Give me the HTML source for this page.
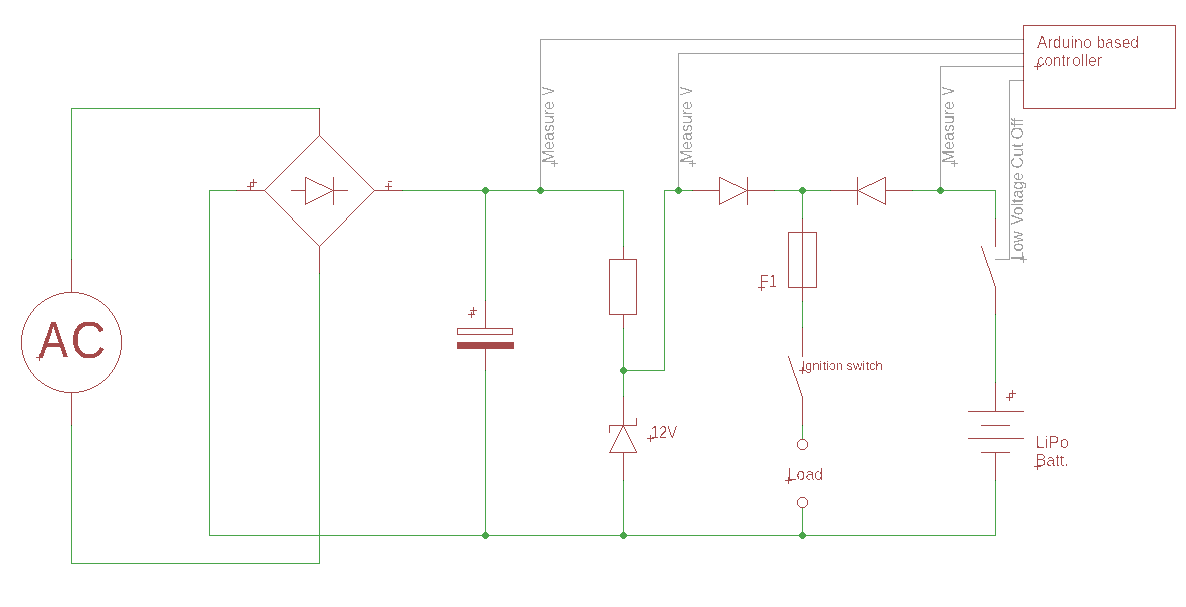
<!DOCTYPE html>
<html><head><meta charset="utf-8"><title>Circuit</title>
<style>
html,body{margin:0;padding:0;background:#fff;}
svg{display:block;}
text{font-family:"Liberation Sans",sans-serif;}
</style></head>
<body>
<svg width="1186" height="607" viewBox="0 0 1186 607" shape-rendering="crispEdges">
<rect x="0" y="0" width="1186" height="607" fill="#ffffff"/>
<rect x="540" y="39" width="1" height="152" fill="#a0a0a0"/>
<rect x="540" y="39" width="484" height="1" fill="#a0a0a0"/>
<rect x="678" y="53" width="1" height="138" fill="#a0a0a0"/>
<rect x="678" y="53" width="346" height="1" fill="#a0a0a0"/>
<rect x="940" y="66" width="1" height="125" fill="#a0a0a0"/>
<rect x="940" y="66" width="84" height="1" fill="#a0a0a0"/>
<rect x="1009" y="80" width="1" height="180" fill="#a0a0a0"/>
<rect x="1009" y="80" width="15" height="1" fill="#a0a0a0"/>
<rect x="995" y="259" width="15" height="1" fill="#a0a0a0"/>
<rect x="71" y="108" width="1" height="152" fill="#4aa54a"/>
<rect x="71" y="108" width="248" height="1" fill="#4aa54a"/>
<rect x="71" y="425" width="1" height="139" fill="#4aa54a"/>
<rect x="71" y="563" width="249" height="1" fill="#4aa54a"/>
<rect x="319" y="273" width="1" height="291" fill="#4aa54a"/>
<rect x="209" y="190" width="28" height="1" fill="#4aa54a"/>
<rect x="209" y="190" width="1" height="346" fill="#4aa54a"/>
<rect x="209" y="535" width="787" height="1" fill="#4aa54a"/>
<rect x="402" y="190" width="222" height="1" fill="#4aa54a"/>
<rect x="623" y="190" width="1" height="57" fill="#4aa54a"/>
<rect x="623" y="328" width="1" height="69" fill="#4aa54a"/>
<rect x="623" y="370" width="42" height="1" fill="#4aa54a"/>
<rect x="664" y="190" width="1" height="181" fill="#4aa54a"/>
<rect x="664" y="190" width="29" height="1" fill="#4aa54a"/>
<rect x="774" y="190" width="57" height="1" fill="#4aa54a"/>
<rect x="912" y="190" width="84" height="1" fill="#4aa54a"/>
<rect x="995" y="190" width="1" height="29" fill="#4aa54a"/>
<rect x="995" y="314" width="1" height="69" fill="#4aa54a"/>
<rect x="995" y="480" width="1" height="56" fill="#4aa54a"/>
<rect x="623" y="480" width="1" height="56" fill="#4aa54a"/>
<rect x="485" y="190" width="1" height="111" fill="#4aa54a"/>
<rect x="485" y="370" width="1" height="166" fill="#4aa54a"/>
<rect x="802" y="190" width="1" height="29" fill="#4aa54a"/>
<rect x="802" y="301" width="1" height="27" fill="#4aa54a"/>
<rect x="802" y="425" width="1" height="15" fill="#4aa54a"/>
<rect x="802" y="508" width="1" height="28" fill="#4aa54a"/>
<rect x="71" y="260" width="1" height="32" fill="#a54a4a"/>
<rect x="71" y="392" width="1" height="33" fill="#a54a4a"/>
<path fill="#a54a4a" d="M64 292h15v1h-15zM59 293h5v1h-5zM79 293h5v1h-5zM56 294h3v1h-3zM84 294h3v1h-3zM53 295h3v1h-3zM87 295h3v1h-3zM51 296h2v1h-2zM90 296h2v1h-2zM49 297h2v1h-2zM92 297h2v1h-2zM47 298h2v1h-2zM94 298h2v1h-2zM45 299h2v1h-2zM96 299h2v1h-2zM42 301h2v1h-2zM99 301h2v1h-2zM38 304h2v1h-2zM103 304h2v1h-2zM38 380h2v1h-2zM103 380h2v1h-2zM42 383h2v1h-2zM99 383h2v1h-2zM45 385h2v1h-2zM96 385h2v1h-2zM47 386h2v1h-2zM94 386h2v1h-2zM49 387h2v1h-2zM92 387h2v1h-2zM51 388h2v1h-2zM90 388h2v1h-2zM53 389h3v1h-3zM87 389h3v1h-3zM56 390h3v1h-3zM84 390h3v1h-3zM59 391h5v1h-5zM79 391h5v1h-5zM64 392h15v1h-15zM21 335h1v15h-1zM22 330h1v5h-1zM22 350h1v5h-1zM23 327h1v3h-1zM23 355h1v3h-1zM24 324h1v3h-1zM24 358h1v3h-1zM25 322h1v2h-1zM25 361h1v2h-1zM26 320h1v2h-1zM26 363h1v2h-1zM27 318h1v2h-1zM27 365h1v2h-1zM28 316h1v2h-1zM28 367h1v2h-1zM29 315h1v1h-1zM29 369h1v1h-1zM30 313h1v2h-1zM30 370h1v2h-1zM31 312h1v1h-1zM31 372h1v1h-1zM32 311h1v1h-1zM32 373h1v1h-1zM33 309h1v2h-1zM33 374h1v2h-1zM34 308h1v1h-1zM34 376h1v1h-1zM35 307h1v1h-1zM35 377h1v1h-1zM36 306h1v1h-1zM36 378h1v1h-1zM37 305h1v1h-1zM37 379h1v1h-1zM40 303h1v1h-1zM40 381h1v1h-1zM41 302h1v1h-1zM41 382h1v1h-1zM44 300h1v1h-1zM44 384h1v1h-1zM98 300h1v1h-1zM98 384h1v1h-1zM101 302h1v1h-1zM101 382h1v1h-1zM102 303h1v1h-1zM102 381h1v1h-1zM105 305h1v1h-1zM105 379h1v1h-1zM106 306h1v1h-1zM106 378h1v1h-1zM107 307h1v1h-1zM107 377h1v1h-1zM108 308h1v1h-1zM108 376h1v1h-1zM109 309h1v2h-1zM109 374h1v2h-1zM110 311h1v1h-1zM110 373h1v1h-1zM111 312h1v1h-1zM111 372h1v1h-1zM112 313h1v2h-1zM112 370h1v2h-1zM113 315h1v1h-1zM113 369h1v1h-1zM114 316h1v2h-1zM114 367h1v2h-1zM115 318h1v2h-1zM115 365h1v2h-1zM116 320h1v2h-1zM116 363h1v2h-1zM117 322h1v2h-1zM117 361h1v2h-1zM118 324h1v3h-1zM118 358h1v3h-1zM119 327h1v3h-1zM119 355h1v3h-1zM120 330h1v5h-1zM120 350h1v5h-1zM121 335h1v15h-1z"/>
<rect x="319" y="108" width="1" height="28" fill="#a54a4a"/>
<rect x="319" y="246" width="1" height="27" fill="#a54a4a"/>
<rect x="237" y="190" width="28" height="1" fill="#a54a4a"/>
<rect x="374" y="190" width="28" height="1" fill="#a54a4a"/>
<path fill="#a54a4a" d="M264 190h1v1h-1zM265 189h1v1h-1zM266 188h1v1h-1zM267 187h1v1h-1zM268 186h1v1h-1zM269 185h1v1h-1zM270 184h1v1h-1zM271 183h1v1h-1zM272 182h1v1h-1zM273 181h1v1h-1zM274 180h1v1h-1zM275 179h1v1h-1zM276 178h1v1h-1zM277 177h1v1h-1zM278 176h1v1h-1zM279 175h1v1h-1zM280 174h1v1h-1zM281 173h1v1h-1zM282 172h1v1h-1zM283 171h1v1h-1zM284 170h1v1h-1zM285 169h1v1h-1zM286 168h1v1h-1zM287 167h1v1h-1zM288 166h1v1h-1zM289 165h1v1h-1zM290 164h1v1h-1zM291 163h1v1h-1zM292 162h1v1h-1zM293 161h1v1h-1zM294 160h1v1h-1zM295 159h1v1h-1zM296 158h1v1h-1zM297 157h1v1h-1zM298 156h1v1h-1zM299 155h1v1h-1zM300 154h1v1h-1zM301 153h1v1h-1zM302 152h1v1h-1zM303 151h1v1h-1zM304 150h1v1h-1zM305 149h1v1h-1zM306 148h1v1h-1zM307 147h1v1h-1zM308 146h1v1h-1zM309 145h1v1h-1zM310 144h1v1h-1zM311 143h1v1h-1zM312 142h1v1h-1zM313 141h1v1h-1zM314 140h1v1h-1zM315 139h1v1h-1zM316 138h1v1h-1zM317 137h1v1h-1zM318 136h1v1h-1zM319 135h1v1h-1z"/>
<path fill="#a54a4a" d="M264 190h1v1h-1zM265 191h1v1h-1zM266 192h1v1h-1zM267 193h1v1h-1zM268 194h1v1h-1zM269 195h1v1h-1zM270 196h1v1h-1zM271 197h1v1h-1zM272 198h1v1h-1zM273 199h1v1h-1zM274 200h1v1h-1zM275 201h1v1h-1zM276 202h1v1h-1zM277 203h1v1h-1zM278 204h1v1h-1zM279 205h1v1h-1zM280 206h1v1h-1zM281 207h1v1h-1zM282 208h1v1h-1zM283 209h1v1h-1zM284 210h1v1h-1zM285 211h1v1h-1zM286 212h1v1h-1zM287 213h1v1h-1zM288 214h1v1h-1zM289 215h1v1h-1zM290 216h1v1h-1zM291 217h1v1h-1zM292 218h1v2h-1zM293 220h1v1h-1zM294 221h1v1h-1zM295 222h1v1h-1zM296 223h1v1h-1zM297 224h1v1h-1zM298 225h1v1h-1zM299 226h1v1h-1zM300 227h1v1h-1zM301 228h1v1h-1zM302 229h1v1h-1zM303 230h1v1h-1zM304 231h1v1h-1zM305 232h1v1h-1zM306 233h1v1h-1zM307 234h1v1h-1zM308 235h1v1h-1zM309 236h1v1h-1zM310 237h1v1h-1zM311 238h1v1h-1zM312 239h1v1h-1zM313 240h1v1h-1zM314 241h1v1h-1zM315 242h1v1h-1zM316 243h1v1h-1zM317 244h1v1h-1zM318 245h1v1h-1zM319 246h1v1h-1z"/>
<path fill="#a54a4a" d="M319 246h1v1h-1zM320 245h1v1h-1zM321 244h1v1h-1zM322 243h1v1h-1zM323 242h1v1h-1zM324 241h1v1h-1zM325 240h1v1h-1zM326 239h1v1h-1zM327 238h1v1h-1zM328 237h1v1h-1zM329 236h1v1h-1zM330 235h1v1h-1zM331 234h1v1h-1zM332 233h1v1h-1zM333 232h1v1h-1zM334 231h1v1h-1zM335 230h1v1h-1zM336 229h1v1h-1zM337 228h1v1h-1zM338 227h1v1h-1zM339 226h1v1h-1zM340 225h1v1h-1zM341 224h1v1h-1zM342 223h1v1h-1zM343 222h1v1h-1zM344 221h1v1h-1zM345 220h1v1h-1zM346 218h1v2h-1zM347 217h1v1h-1zM348 216h1v1h-1zM349 215h1v1h-1zM350 214h1v1h-1zM351 213h1v1h-1zM352 212h1v1h-1zM353 211h1v1h-1zM354 210h1v1h-1zM355 209h1v1h-1zM356 208h1v1h-1zM357 207h1v1h-1zM358 206h1v1h-1zM359 205h1v1h-1zM360 204h1v1h-1zM361 203h1v1h-1zM362 202h1v1h-1zM363 201h1v1h-1zM364 200h1v1h-1zM365 199h1v1h-1zM366 198h1v1h-1zM367 197h1v1h-1zM368 196h1v1h-1zM369 195h1v1h-1zM370 194h1v1h-1zM371 193h1v1h-1zM372 192h1v1h-1zM373 191h1v1h-1zM374 190h1v1h-1z"/>
<path fill="#a54a4a" d="M319 135h1v1h-1zM320 136h1v1h-1zM321 137h1v1h-1zM322 138h1v1h-1zM323 139h1v1h-1zM324 140h1v1h-1zM325 141h1v1h-1zM326 142h1v1h-1zM327 143h1v1h-1zM328 144h1v1h-1zM329 145h1v1h-1zM330 146h1v1h-1zM331 147h1v1h-1zM332 148h1v1h-1zM333 149h1v1h-1zM334 150h1v1h-1zM335 151h1v1h-1zM336 152h1v1h-1zM337 153h1v1h-1zM338 154h1v1h-1zM339 155h1v1h-1zM340 156h1v1h-1zM341 157h1v1h-1zM342 158h1v1h-1zM343 159h1v1h-1zM344 160h1v1h-1zM345 161h1v1h-1zM346 162h1v1h-1zM347 163h1v1h-1zM348 164h1v1h-1zM349 165h1v1h-1zM350 166h1v1h-1zM351 167h1v1h-1zM352 168h1v1h-1zM353 169h1v1h-1zM354 170h1v1h-1zM355 171h1v1h-1zM356 172h1v1h-1zM357 173h1v1h-1zM358 174h1v1h-1zM359 175h1v1h-1zM360 176h1v1h-1zM361 177h1v1h-1zM362 178h1v1h-1zM363 179h1v1h-1zM364 180h1v1h-1zM365 181h1v1h-1zM366 182h1v1h-1zM367 183h1v1h-1zM368 184h1v1h-1zM369 185h1v1h-1zM370 186h1v1h-1zM371 187h1v1h-1zM372 188h1v1h-1zM373 189h1v1h-1zM374 190h1v1h-1z"/>
<rect x="291" y="190" width="15" height="1" fill="#a54a4a"/>
<rect x="333" y="190" width="15" height="1" fill="#a54a4a"/>
<rect x="305" y="177" width="1" height="28" fill="#a54a4a"/>
<rect x="333" y="177" width="1" height="28" fill="#a54a4a"/>
<path fill="#a54a4a" d="M305 177h2v1h-2zM307 178h2v1h-2zM309 179h2v1h-2zM311 180h2v1h-2zM313 181h2v1h-2zM315 182h2v1h-2zM317 183h2v1h-2zM319 184h3v1h-3zM322 185h2v1h-2zM324 186h2v1h-2zM326 187h2v1h-2zM328 188h2v1h-2zM330 189h2v1h-2zM332 190h2v1h-2z"/>
<path fill="#a54a4a" d="M332 190h2v1h-2zM330 191h2v1h-2zM328 192h2v1h-2zM326 193h2v1h-2zM324 194h2v1h-2zM322 195h2v1h-2zM320 196h2v1h-2zM318 197h2v1h-2zM316 198h2v1h-2zM314 199h2v1h-2zM312 200h2v1h-2zM310 201h2v1h-2zM308 202h2v1h-2zM306 203h2v1h-2zM305 204h1v1h-1z"/>
<rect x="247" y="186" width="7" height="1" fill="#a54a4a"/>
<rect x="250" y="182" width="1" height="9" fill="#a54a4a"/>
<rect x="250" y="182" width="7" height="1" fill="#a54a4a"/>
<rect x="253" y="179" width="1" height="8" fill="#a54a4a"/>
<rect x="385" y="186" width="7" height="1" fill="#a54a4a"/>
<rect x="388" y="183" width="1" height="8" fill="#a54a4a"/>
<rect x="388" y="181" width="4" height="1" fill="#a54a4a"/>
<rect x="485" y="301" width="1" height="28" fill="#a54a4a"/>
<rect x="457" y="328" width="56" height="1" fill="#a54a4a"/>
<rect x="457" y="334" width="56" height="1" fill="#a54a4a"/>
<rect x="457" y="328" width="1" height="7" fill="#a54a4a"/>
<rect x="512" y="328" width="1" height="7" fill="#a54a4a"/>
<rect x="457" y="342" width="57" height="7" fill="#a54a4a"/>
<rect x="485" y="349" width="1" height="21" fill="#a54a4a"/>
<rect x="623" y="247" width="1" height="13" fill="#a54a4a"/>
<rect x="609" y="259" width="28" height="1" fill="#a54a4a"/>
<rect x="609" y="314" width="28" height="1" fill="#a54a4a"/>
<rect x="609" y="259" width="1" height="56" fill="#a54a4a"/>
<rect x="636" y="259" width="1" height="56" fill="#a54a4a"/>
<rect x="623" y="314" width="1" height="14" fill="#a54a4a"/>
<rect x="623" y="397" width="1" height="29" fill="#a54a4a"/>
<rect x="609" y="425" width="28" height="1" fill="#a54a4a"/>
<rect x="609" y="425" width="1" height="8" fill="#a54a4a"/>
<rect x="636" y="418" width="1" height="8" fill="#a54a4a"/>
<path fill="#a54a4a" d="M609 452h1v1h-1zM610 450h1v2h-1zM611 448h1v2h-1zM612 446h1v2h-1zM613 444h1v2h-1zM614 442h1v2h-1zM615 440h1v2h-1zM616 438h1v2h-1zM617 436h1v2h-1zM618 434h1v2h-1zM619 432h1v2h-1zM620 430h1v2h-1zM621 428h1v2h-1zM622 426h1v2h-1zM623 425h1v1h-1z"/>
<path fill="#a54a4a" d="M623 425h1v2h-1zM624 427h1v2h-1zM625 429h1v2h-1zM626 431h1v2h-1zM627 433h1v2h-1zM628 435h1v2h-1zM629 437h1v2h-1zM630 439h1v2h-1zM631 441h1v2h-1zM632 443h1v2h-1zM633 445h1v2h-1zM634 447h1v2h-1zM635 449h1v2h-1zM636 451h1v2h-1z"/>
<rect x="609" y="452" width="28" height="1" fill="#a54a4a"/>
<rect x="623" y="452" width="1" height="28" fill="#a54a4a"/>
<rect x="693" y="190" width="27" height="1" fill="#a54a4a"/>
<rect x="719" y="177" width="1" height="28" fill="#a54a4a"/>
<rect x="747" y="177" width="1" height="28" fill="#a54a4a"/>
<path fill="#a54a4a" d="M719 177h2v1h-2zM721 178h2v1h-2zM723 179h2v1h-2zM725 180h2v1h-2zM727 181h2v1h-2zM729 182h2v1h-2zM731 183h2v1h-2zM733 184h3v1h-3zM736 185h2v1h-2zM738 186h2v1h-2zM740 187h2v1h-2zM742 188h2v1h-2zM744 189h2v1h-2zM746 190h2v1h-2z"/>
<path fill="#a54a4a" d="M746 190h2v1h-2zM744 191h2v1h-2zM742 192h2v1h-2zM740 193h2v1h-2zM738 194h2v1h-2zM736 195h2v1h-2zM734 196h2v1h-2zM732 197h2v1h-2zM730 198h2v1h-2zM728 199h2v1h-2zM726 200h2v1h-2zM724 201h2v1h-2zM722 202h2v1h-2zM720 203h2v1h-2zM719 204h1v1h-1z"/>
<rect x="747" y="190" width="27" height="1" fill="#a54a4a"/>
<rect x="831" y="190" width="27" height="1" fill="#a54a4a"/>
<rect x="857" y="177" width="1" height="28" fill="#a54a4a"/>
<rect x="885" y="177" width="1" height="28" fill="#a54a4a"/>
<path fill="#a54a4a" d="M884 177h2v1h-2zM882 178h2v1h-2zM880 179h2v1h-2zM878 180h2v1h-2zM876 181h2v1h-2zM874 182h2v1h-2zM872 183h2v1h-2zM869 184h3v1h-3zM867 185h2v1h-2zM865 186h2v1h-2zM863 187h2v1h-2zM861 188h2v1h-2zM859 189h2v1h-2zM857 190h2v1h-2z"/>
<path fill="#a54a4a" d="M857 190h2v1h-2zM859 191h2v1h-2zM861 192h2v1h-2zM863 193h2v1h-2zM865 194h2v1h-2zM867 195h2v1h-2zM869 196h2v1h-2zM871 197h2v1h-2zM873 198h2v1h-2zM875 199h2v1h-2zM877 200h2v1h-2zM879 201h2v1h-2zM881 202h2v1h-2zM883 203h2v1h-2zM885 204h1v1h-1z"/>
<rect x="885" y="190" width="27" height="1" fill="#a54a4a"/>
<rect x="802" y="219" width="1" height="82" fill="#a54a4a"/>
<rect x="788" y="232" width="29" height="1" fill="#a54a4a"/>
<rect x="788" y="287" width="29" height="1" fill="#a54a4a"/>
<rect x="788" y="232" width="1" height="56" fill="#a54a4a"/>
<rect x="816" y="232" width="1" height="56" fill="#a54a4a"/>
<rect x="802" y="328" width="1" height="29" fill="#a54a4a"/>
<path fill="#a54a4a" d="M788 356h1v2h-1zM789 358h1v3h-1zM790 361h1v3h-1zM791 364h1v3h-1zM792 367h1v3h-1zM793 370h1v3h-1zM794 373h1v3h-1zM795 376h1v2h-1zM796 378h1v3h-1zM797 381h1v3h-1zM798 384h1v3h-1zM799 387h1v3h-1zM800 390h1v3h-1zM801 393h1v3h-1zM802 396h1v2h-1z"/>
<rect x="802" y="397" width="1" height="28" fill="#a54a4a"/>
<path fill="#a54a4a" d="M800 439h5v1h-5zM800 449h5v1h-5zM797 442h1v5h-1zM798 441h1v1h-1zM798 447h1v1h-1zM799 440h1v1h-1zM799 448h1v1h-1zM805 440h1v1h-1zM805 448h1v1h-1zM806 441h1v1h-1zM806 447h1v1h-1zM807 442h1v5h-1z"/>
<path fill="#a54a4a" d="M800 497h5v1h-5zM800 507h5v1h-5zM797 500h1v5h-1zM798 499h1v1h-1zM798 505h1v1h-1zM799 498h1v1h-1zM799 506h1v1h-1zM805 498h1v1h-1zM805 506h1v1h-1zM806 499h1v1h-1zM806 505h1v1h-1zM807 500h1v5h-1z"/>
<rect x="995" y="219" width="1" height="28" fill="#a54a4a"/>
<path fill="#a54a4a" d="M981 246h1v2h-1zM982 248h1v3h-1zM983 251h1v3h-1zM984 254h1v3h-1zM985 257h1v3h-1zM986 260h1v3h-1zM987 263h1v3h-1zM988 266h1v2h-1zM989 268h1v3h-1zM990 271h1v3h-1zM991 274h1v3h-1zM992 277h1v3h-1zM993 280h1v3h-1zM994 283h1v3h-1zM995 286h1v2h-1z"/>
<rect x="995" y="287" width="1" height="27" fill="#a54a4a"/>
<rect x="995" y="383" width="1" height="29" fill="#a54a4a"/>
<rect x="968" y="411" width="56" height="1" fill="#a54a4a"/>
<rect x="981" y="425" width="29" height="1" fill="#a54a4a"/>
<rect x="968" y="438" width="56" height="1" fill="#a54a4a"/>
<rect x="981" y="452" width="29" height="1" fill="#a54a4a"/>
<rect x="995" y="452" width="1" height="28" fill="#a54a4a"/>
<rect x="1023" y="25" width="153" height="1" fill="#a54a4a"/>
<rect x="1023" y="108" width="153" height="1" fill="#a54a4a"/>
<rect x="1023" y="25" width="1" height="84" fill="#a54a4a"/>
<rect x="1175" y="25" width="1" height="84" fill="#a54a4a"/>
<rect x="319" y="108" width="1" height="1" fill="#206a18"/>
<rect x="71" y="259" width="1" height="1" fill="#206a18"/>
<rect x="71" y="425" width="1" height="1" fill="#206a18"/>
<rect x="319" y="273" width="1" height="1" fill="#206a18"/>
<rect x="236" y="190" width="1" height="1" fill="#206a18"/>
<rect x="402" y="190" width="1" height="1" fill="#206a18"/>
<rect x="485" y="300" width="1" height="1" fill="#206a18"/>
<rect x="485" y="370" width="1" height="1" fill="#206a18"/>
<rect x="623" y="246" width="1" height="1" fill="#206a18"/>
<rect x="623" y="328" width="1" height="1" fill="#206a18"/>
<rect x="623" y="396" width="1" height="1" fill="#206a18"/>
<rect x="623" y="480" width="1" height="1" fill="#206a18"/>
<rect x="692" y="190" width="1" height="1" fill="#206a18"/>
<rect x="774" y="190" width="1" height="1" fill="#206a18"/>
<rect x="830" y="190" width="1" height="1" fill="#206a18"/>
<rect x="912" y="190" width="1" height="1" fill="#206a18"/>
<rect x="802" y="218" width="1" height="1" fill="#206a18"/>
<rect x="802" y="301" width="1" height="1" fill="#206a18"/>
<rect x="802" y="327" width="1" height="1" fill="#206a18"/>
<rect x="802" y="425" width="1" height="1" fill="#206a18"/>
<rect x="995" y="218" width="1" height="1" fill="#206a18"/>
<rect x="995" y="314" width="1" height="1" fill="#206a18"/>
<rect x="995" y="382" width="1" height="1" fill="#206a18"/>
<rect x="995" y="480" width="1" height="1" fill="#206a18"/>
<rect x="484" y="187" width="3" height="1" fill="#4aa54a"/>
<rect x="483" y="188" width="5" height="1" fill="#4aa54a"/>
<rect x="482" y="189" width="7" height="1" fill="#4aa54a"/>
<rect x="482" y="190" width="7" height="1" fill="#4aa54a"/>
<rect x="482" y="191" width="7" height="1" fill="#4aa54a"/>
<rect x="483" y="192" width="5" height="1" fill="#4aa54a"/>
<rect x="484" y="193" width="3" height="1" fill="#4aa54a"/>
<rect x="539" y="187" width="3" height="1" fill="#4aa54a"/>
<rect x="538" y="188" width="5" height="1" fill="#4aa54a"/>
<rect x="537" y="189" width="7" height="1" fill="#4aa54a"/>
<rect x="537" y="190" width="7" height="1" fill="#4aa54a"/>
<rect x="537" y="191" width="7" height="1" fill="#4aa54a"/>
<rect x="538" y="192" width="5" height="1" fill="#4aa54a"/>
<rect x="539" y="193" width="3" height="1" fill="#4aa54a"/>
<rect x="677" y="187" width="3" height="1" fill="#4aa54a"/>
<rect x="676" y="188" width="5" height="1" fill="#4aa54a"/>
<rect x="675" y="189" width="7" height="1" fill="#4aa54a"/>
<rect x="675" y="190" width="7" height="1" fill="#4aa54a"/>
<rect x="675" y="191" width="7" height="1" fill="#4aa54a"/>
<rect x="676" y="192" width="5" height="1" fill="#4aa54a"/>
<rect x="677" y="193" width="3" height="1" fill="#4aa54a"/>
<rect x="801" y="187" width="3" height="1" fill="#4aa54a"/>
<rect x="800" y="188" width="5" height="1" fill="#4aa54a"/>
<rect x="799" y="189" width="7" height="1" fill="#4aa54a"/>
<rect x="799" y="190" width="7" height="1" fill="#4aa54a"/>
<rect x="799" y="191" width="7" height="1" fill="#4aa54a"/>
<rect x="800" y="192" width="5" height="1" fill="#4aa54a"/>
<rect x="801" y="193" width="3" height="1" fill="#4aa54a"/>
<rect x="939" y="187" width="3" height="1" fill="#4aa54a"/>
<rect x="938" y="188" width="5" height="1" fill="#4aa54a"/>
<rect x="937" y="189" width="7" height="1" fill="#4aa54a"/>
<rect x="937" y="190" width="7" height="1" fill="#4aa54a"/>
<rect x="937" y="191" width="7" height="1" fill="#4aa54a"/>
<rect x="938" y="192" width="5" height="1" fill="#4aa54a"/>
<rect x="939" y="193" width="3" height="1" fill="#4aa54a"/>
<rect x="622" y="367" width="3" height="1" fill="#4aa54a"/>
<rect x="621" y="368" width="5" height="1" fill="#4aa54a"/>
<rect x="620" y="369" width="7" height="1" fill="#4aa54a"/>
<rect x="620" y="370" width="7" height="1" fill="#4aa54a"/>
<rect x="620" y="371" width="7" height="1" fill="#4aa54a"/>
<rect x="621" y="372" width="5" height="1" fill="#4aa54a"/>
<rect x="622" y="373" width="3" height="1" fill="#4aa54a"/>
<rect x="484" y="532" width="3" height="1" fill="#4aa54a"/>
<rect x="483" y="533" width="5" height="1" fill="#4aa54a"/>
<rect x="482" y="534" width="7" height="1" fill="#4aa54a"/>
<rect x="482" y="535" width="7" height="1" fill="#4aa54a"/>
<rect x="482" y="536" width="7" height="1" fill="#4aa54a"/>
<rect x="483" y="537" width="5" height="1" fill="#4aa54a"/>
<rect x="484" y="538" width="3" height="1" fill="#4aa54a"/>
<rect x="622" y="532" width="3" height="1" fill="#4aa54a"/>
<rect x="621" y="533" width="5" height="1" fill="#4aa54a"/>
<rect x="620" y="534" width="7" height="1" fill="#4aa54a"/>
<rect x="620" y="535" width="7" height="1" fill="#4aa54a"/>
<rect x="620" y="536" width="7" height="1" fill="#4aa54a"/>
<rect x="621" y="537" width="5" height="1" fill="#4aa54a"/>
<rect x="622" y="538" width="3" height="1" fill="#4aa54a"/>
<rect x="801" y="532" width="3" height="1" fill="#4aa54a"/>
<rect x="800" y="533" width="5" height="1" fill="#4aa54a"/>
<rect x="799" y="534" width="7" height="1" fill="#4aa54a"/>
<rect x="799" y="535" width="7" height="1" fill="#4aa54a"/>
<rect x="799" y="536" width="7" height="1" fill="#4aa54a"/>
<rect x="800" y="537" width="5" height="1" fill="#4aa54a"/>
<rect x="801" y="538" width="3" height="1" fill="#4aa54a"/>
<rect x="1023" y="39" width="1" height="1" fill="#5e2a2a"/>
<rect x="1023" y="53" width="1" height="1" fill="#5e2a2a"/>
<rect x="1023" y="66" width="1" height="1" fill="#5e2a2a"/>
<rect x="1023" y="80" width="1" height="1" fill="#5e2a2a"/>
<rect x="540" y="187" width="1" height="4" fill="#379237"/>
<rect x="678" y="187" width="1" height="4" fill="#379237"/>
<rect x="940" y="187" width="1" height="4" fill="#379237"/>
<defs>
<filter id="tr" color-interpolation-filters="sRGB" filterUnits="userSpaceOnUse" x="0" y="0" width="1186" height="607"><feComponentTransfer in="SourceAlpha" result="m"><feFuncA type="discrete" tableValues="0 0 0 0 0 0 0 0 0 0 0 0 0 0 1 1 1 1 1 1"/></feComponentTransfer><feFlood flood-color="#a54a4a"/><feComposite operator="in" in2="m"/></filter>
<filter id="ts" color-interpolation-filters="sRGB" filterUnits="userSpaceOnUse" x="0" y="0" width="1186" height="607"><feComponentTransfer in="SourceAlpha" result="m"><feFuncA type="discrete" tableValues="0 0 0 0 0 0 0 0 0 0 0 0 1 1 1 1 1 1 1 1"/></feComponentTransfer><feFlood flood-color="#a54a4a"/><feComposite operator="in" in2="m"/></filter>
<filter id="tg" color-interpolation-filters="sRGB" filterUnits="userSpaceOnUse" x="0" y="0" width="1186" height="607"><feComponentTransfer in="SourceAlpha" result="m"><feFuncA type="discrete" tableValues="0 0 0 0 0 0 0 0 0 0 0 1 1 1 1 1 1 1 1 1"/></feComponentTransfer><feFlood flood-color="#a0a0a0"/><feComposite operator="in" in2="m"/></filter>
<filter id="tb" color-interpolation-filters="sRGB" filterUnits="userSpaceOnUse" x="0" y="0" width="1186" height="607"><feComponentTransfer in="SourceAlpha" result="m"><feFuncA type="discrete" tableValues="0 0 0 0 0 0 0 0 0 0 1 1 1 1 1 1 1 1 1 1"/></feComponentTransfer><feFlood flood-color="#a54a4a"/><feComposite operator="in" in2="m"/></filter>
</defs>
<g filter="url(#tr)" fill="#a54a4a">
<text x="650.66" y="438" font-size="17.4" textLength="26.6" lengthAdjust="spacingAndGlyphs">12V</text>
<text x="759.76" y="287" font-size="17.4" textLength="17.57" lengthAdjust="spacingAndGlyphs">F1</text>
<text x="787.69" y="480" font-size="17.4" textLength="35.43" lengthAdjust="spacingAndGlyphs">Load</text>
<text x="1035.64" y="448" font-size="17.4" textLength="33.26" lengthAdjust="spacingAndGlyphs">LiPo</text>
<text x="1035.68" y="466" font-size="17.4" textLength="32.98" lengthAdjust="spacingAndGlyphs">Batt.</text>
<text y="48" font-size="17.4"><tspan x="1036.97" textLength="54.8" lengthAdjust="spacingAndGlyphs">Arduino</tspan> <tspan x="1096.39" textLength="42.72" lengthAdjust="spacingAndGlyphs">based</tspan></text>
<text y="66" font-size="17.4"><tspan x="1036.96" textLength="33.59" lengthAdjust="spacingAndGlyphs">contr</tspan><tspan x="1072.03" textLength="30.03" lengthAdjust="spacingAndGlyphs">oller</tspan></text>
</g>
<g filter="url(#ts)" fill="#a54a4a">
<text y="370" font-size="13.6"><tspan x="801.82" textLength="41.31" lengthAdjust="spacingAndGlyphs">Ignition</tspan> <tspan x="846.54" textLength="36.31" lengthAdjust="spacingAndGlyphs">switch</tspan></text>
</g>
<g filter="url(#tg)" fill="#a0a0a0">
<text transform="translate(554 0) rotate(-90)" y="0" font-size="15.7"><tspan x="-163.21" textLength="62.22" lengthAdjust="spacingAndGlyphs">Measure</tspan> <tspan x="-95.56" textLength="8.71" lengthAdjust="spacingAndGlyphs">V</tspan></text>
<text transform="translate(692 0) rotate(-90)" y="0" font-size="15.7"><tspan x="-163.21" textLength="62.22" lengthAdjust="spacingAndGlyphs">Measure</tspan> <tspan x="-95.56" textLength="8.71" lengthAdjust="spacingAndGlyphs">V</tspan></text>
<text transform="translate(954 0) rotate(-90)" y="0" font-size="15.7"><tspan x="-163.21" textLength="62.22" lengthAdjust="spacingAndGlyphs">Measure</tspan> <tspan x="-95.56" textLength="8.71" lengthAdjust="spacingAndGlyphs">V</tspan></text>
<text transform="translate(1023 0) rotate(-90)" y="0" font-size="15.7"><tspan x="-260.3" textLength="29.06" lengthAdjust="spacingAndGlyphs">Low</tspan> <tspan x="-225.07" textLength="52.96" lengthAdjust="spacingAndGlyphs">Voltage</tspan> <tspan x="-168.42" textLength="25.14" lengthAdjust="spacingAndGlyphs">Cut</tspan> <tspan x="-139.57" textLength="21.54" lengthAdjust="spacingAndGlyphs">Off</tspan></text>
</g>
<g filter="url(#tb)" fill="#a54a4a">
<text y="357" font-size="50.4"><tspan x="39.02" textLength="28.87" lengthAdjust="spacingAndGlyphs">A</tspan><tspan x="70.51" font-size="52.3" dy="0.7" textLength="35.35" lengthAdjust="spacingAndGlyphs">C</tspan></text>
</g>
<g>
<rect x="36" y="357" width="7" height="1" fill="#a54a4a"/><rect x="39" y="354" width="1" height="7" fill="#a54a4a"/>
<rect x="468" y="314" width="7" height="1" fill="#a54a4a"/><rect x="471" y="312" width="1" height="6" fill="#a54a4a"/>
<rect x="470" y="310" width="7" height="1" fill="#a54a4a"/><rect x="473" y="307" width="1" height="7" fill="#a54a4a"/>
<rect x="647" y="438" width="7" height="1" fill="#a54a4a"/><rect x="650" y="435" width="1" height="7" fill="#a54a4a"/>
<rect x="758" y="287" width="7" height="1" fill="#a54a4a"/><rect x="761" y="284" width="1" height="7" fill="#a54a4a"/>
<rect x="799" y="370" width="7" height="1" fill="#a54a4a"/><rect x="802" y="367" width="1" height="7" fill="#a54a4a"/>
<rect x="785" y="480" width="7" height="1" fill="#a54a4a"/><rect x="788" y="477" width="1" height="7" fill="#a54a4a"/>
<rect x="1006" y="397" width="7" height="1" fill="#a54a4a"/><rect x="1009" y="394" width="1" height="7" fill="#a54a4a"/>
<rect x="1009" y="393" width="7" height="1" fill="#a54a4a"/><rect x="1012" y="390" width="1" height="7" fill="#a54a4a"/>
<rect x="1034" y="466" width="7" height="1" fill="#a54a4a"/><rect x="1037" y="463" width="1" height="7" fill="#a54a4a"/>
<rect x="1034" y="66" width="7" height="1" fill="#a54a4a"/><rect x="1037" y="63" width="1" height="7" fill="#a54a4a"/>
<rect x="551" y="163" width="7" height="1" fill="#a0a0a0"/><rect x="554" y="160" width="1" height="7" fill="#a0a0a0"/>
<rect x="689" y="163" width="7" height="1" fill="#a0a0a0"/><rect x="692" y="160" width="1" height="7" fill="#a0a0a0"/>
<rect x="951" y="163" width="7" height="1" fill="#a0a0a0"/><rect x="954" y="160" width="1" height="7" fill="#a0a0a0"/>
<rect x="1020" y="259" width="7" height="1" fill="#a0a0a0"/><rect x="1023" y="256" width="1" height="7" fill="#a0a0a0"/>
</g>
</svg>
</body></html>
